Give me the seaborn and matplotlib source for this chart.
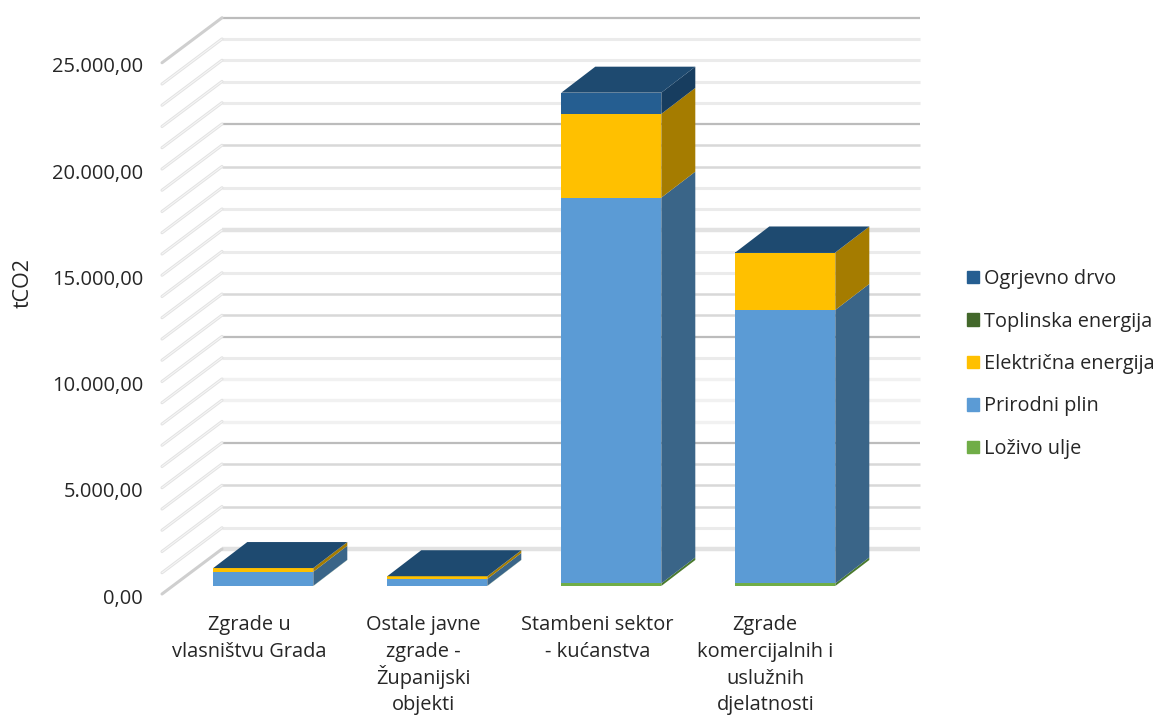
#!/usr/bin/env python3
import numpy as np
import pandas as pd
import matplotlib
matplotlib.use('Agg')
import matplotlib.pyplot as plt
from matplotlib.patches import Patch
from matplotlib.transforms import ScaledTranslation
import seaborn as sns

categories = ['Zgrade u\nvlasništvu Grada', 'Ostale javne\nzgrade -\nŽupanijski\nobjekti',
              'Stambeni sektor\n- kućanstva', 'Zgrade\nkomercijalnih i\nuslužnih\ndjelatnosti']
lozivo_ulje = [10, 10, 120, 120]
prirodni_plin = [660, 320, 18155, 12870]
elektricna = [170, 125, 3940, 2700]
toplinska = [0, 0, 0, 0]
ogrjevno_drvo = [5, 5, 1000, 5]

series_names = ['Loživo ulje', 'Prirodni plin', 'Električna energija', 'Toplinska energija', 'Ogrjevno drvo']
series_values = [lozivo_ulje, prirodni_plin, elektricna, toplinska, ogrjevno_drvo]
front_colors = ['#70ad47', '#5b9bd5', '#ffc000', '#43682b', '#255e91']
side_colors = ['#4a7a2e', '#3a6588', '#a57c00', '#2b431c', '#173d5f']
top_color = '#1e4a70'

y_ticks = np.arange(0, 25001, 5000)
grid_values = np.arange(0, 25001, 1000)
# how the wall lines come out in the reference, from 0 up to 25000
grid_styles = ['thick', 'light', 'mid', 'mid', 'mid', 'dark', 'faint', 'faint', 'faint', 'light', 'dark', 'mid', 'mid',
               'light', 'light', 'thick', 'light', 'light', 'mid', 'mid', 'dark', 'light', 'light', 'light', 'light', 'dark']
style_lines = {
    'dark': ('#bcbcbc', 1.6),
    'mid': ('#d8d8d8', 1.8),
    'light': ('#ebebeb', 2.2),
    'faint': ('#f1f1f1', 2.4),
    'thick': ('#e2e2e2', 3.2),
}

# pixel layout of the reference
px_per_cat = 174.0
px_x0 = 263.3
px_base = 586
px_per_unit = 21.25 / 1000
bar_width = 100 / px_per_cat
depth_x = 34 / px_per_cat
depth_y = 26 / px_per_unit
wall_front_x = (162 - px_x0) / px_per_cat
wall_back_x = (222 - px_x0) / px_per_cat
wall_right_x = (920 - px_x0) / px_per_cat
wall_front_y = (px_base - 594) / px_per_unit
wall_back_y = (px_base - 549) / px_per_unit
label_shift_px = [-14, -14, -14, -20]
label_first_baseline = 630
label_line_px = 26.8

sns.set_style('white')
plt.rcParams['font.family'] = ['Open Sans', 'DejaVu Sans']

fig = plt.figure(figsize=(11.55, 7.15), dpi=100)
px_top = 549 - 25 * 21.25
ax = fig.add_axes([162 / 1155, 1 - 594 / 715, (920 - 162) / 1155, (594 - px_top) / 715])

# walls
for v, style in zip(grid_values, grid_styles):
    c, lw = style_lines[style]
    ax.plot([wall_back_x, wall_right_x], [v + wall_back_y] * 2, color=c, lw=lw, zorder=1, solid_capstyle='butt', clip_on=False)
    diag = '#cfcfcf' if v in (0, 25000) else '#e2e2e2'
    ax.plot([wall_front_x, wall_back_x], [v + wall_front_y, v + wall_back_y], color=diag, lw=2.2, zorder=1, clip_on=False)
    if v not in (0, 25000):
        ax.plot([wall_front_x, wall_back_x], [v + wall_front_y, v + wall_back_y], color='#f6f6f6', lw=0.8, zorder=1, clip_on=False)

# front faces
df = pd.DataFrame({'kategorija': categories})
bottom = np.zeros(len(categories))
bottoms = []
for name, vals, col in zip(series_names, series_values, front_colors):
    df[name] = vals
    sns.barplot(data=df, x='kategorija', y=name, color=col, saturation=1, width=bar_width,
                bottom=bottom, ax=ax, zorder=3, linewidth=0)
    bottoms.append(bottom.copy())
    bottom = bottom + np.array(vals)

# side and top faces
for i in range(len(categories)):
    right = i + bar_width / 2
    left = i - bar_width / 2
    for b, vals, col in zip(bottoms, series_values, side_colors):
        y0 = b[i]
        y1 = b[i] + vals[i]
        ax.fill([right, right + depth_x, right + depth_x, right],
                [y0, y0 + depth_y, y1 + depth_y, y1], color=col, lw=0, zorder=3)
    t = bottom[i]
    ax.fill([left, left + depth_x, right + depth_x, right],
            [t, t + depth_y, t + depth_y, t], color=top_color, lw=0, zorder=3)

ax.set_xlim(wall_front_x, wall_right_x)
ax.set_ylim(wall_front_y, 25000 + wall_back_y)
ax.set_yticks(y_ticks + wall_front_y)
ax.set_yticklabels([f'{v:,.2f}'.replace(',', 'X').replace('.', ',').replace('X', '.') for v in y_ticks])
ax.set_xlabel('')
ax.set_ylabel('tCO2', fontsize=15.5)
ax.yaxis.set_label_coords((34 - 162) / 758, (594 - 283) / (594 - px_top))
ax.tick_params(axis='y', length=0, pad=13.7, labelsize=14.5, labelcolor='#262626')
for lab in ax.get_yticklabels():
    lab.set_transform(lab.get_transform() + ScaledTranslation(0, -1.5 / 72, fig.dpi_scale_trans))

# category labels line by line, the Š line would otherwise break the even spacing
ax.set_xticks(range(len(categories)))
ax.set_xticklabels([])
ax.tick_params(axis='x', length=0)
for i, (cat, shift) in enumerate(zip(categories, label_shift_px)):
    for j, line in enumerate(cat.split('\n')):
        ax.annotate(line, xy=(i, 0), xycoords=('data', 'axes fraction'),
                    xytext=(shift * 0.72, -(label_first_baseline + j * label_line_px - 594) * 0.72),
                    textcoords='offset points', ha='center', va='baseline', fontsize=14.4, color='#262626')
for spine in ax.spines.values():
    spine.set_visible(False)
ax.patch.set_alpha(0)

handles = [Patch(color=c, label=n) for n, c in zip(series_names[::-1], front_colors[::-1])]
fig.legend(handles=handles, loc='center left', bbox_to_anchor=(967 / 1155, 1 - 364 / 715), frameon=False,
           fontsize=14.3, handlelength=0.6, handleheight=0.6, handletextpad=0.25, labelspacing=1.13,
           labelcolor='#262626', borderpad=0, borderaxespad=0)

fig.savefig('out.png', dpi=100)
